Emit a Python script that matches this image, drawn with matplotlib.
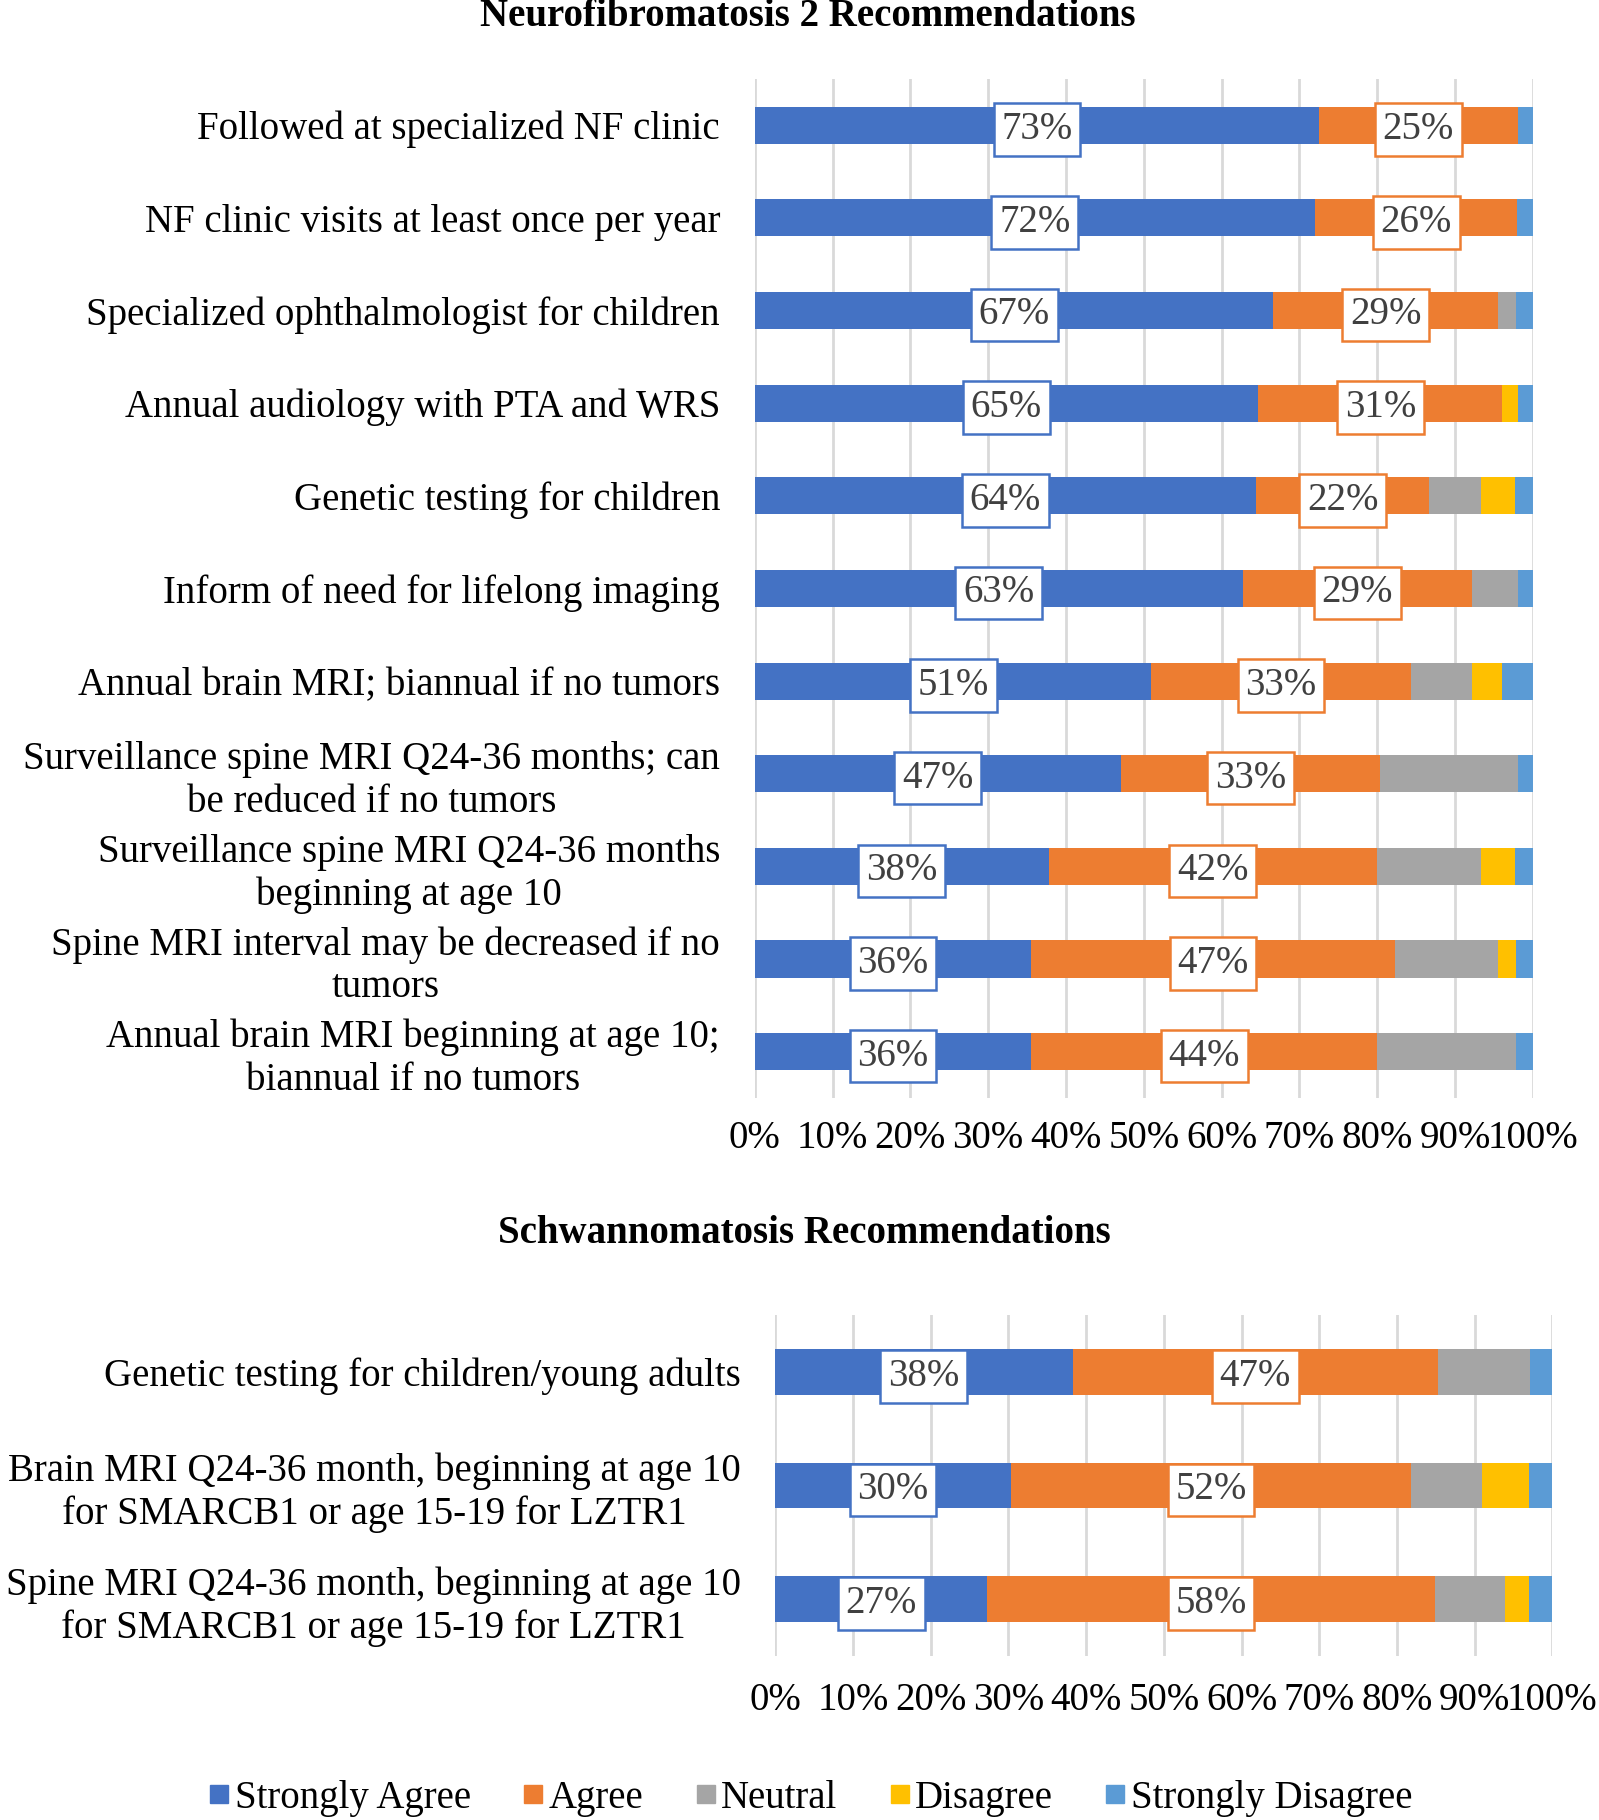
import numpy as np
import matplotlib
matplotlib.use("Agg")
import matplotlib.pyplot as plt
from matplotlib.lines import Line2D

plt.rcParams['font.family'] = ['Liberation Serif', 'DejaVu Serif']

responses = ['Strongly Agree', 'Agree', 'Neutral', 'Disagree', 'Strongly Disagree']
colors = ['#4472C4', '#ED7D31', '#A5A5A5', '#FFC000', '#5B9BD5']

nf2_items = [
    'Followed at specialized NF clinic',
    'NF clinic visits at least once per year',
    'Specialized ophthalmologist for children',
    'Annual audiology with PTA and WRS',
    'Genetic testing for children',
    'Inform of need for lifelong imaging',
    'Annual brain MRI; biannual if no tumors',
    'Surveillance spine MRI Q24-36 months; can\nbe reduced if no tumors',
    'Surveillance spine MRI Q24-36 months\nbeginning at age 10',
    'Spine MRI interval may be decreased if no\ntumors',
    'Annual brain MRI beginning at age 10;\nbiannual if no tumors',
]
nf2_strongly_agree = [72.55, 72.00, 66.67, 64.71, 64.44, 62.75, 50.98, 47.06, 37.78, 35.56, 35.56]
nf2_agree = [25.49, 26.00, 28.89, 31.37, 22.22, 29.41, 33.33, 33.33, 42.22, 46.67, 44.44]
nf2_neutral = [0, 0, 2.22, 0, 6.67, 5.88, 7.84, 17.65, 13.33, 13.33, 17.78]
nf2_disagree = [0, 0, 0, 1.96, 4.44, 0, 3.92, 0, 4.44, 2.22, 0]
nf2_strongly_disagree = [1.96, 2.00, 2.22, 1.96, 2.22, 1.96, 3.92, 1.96, 2.22, 2.22, 2.22]

swn_items = [
    'Genetic testing for children/young adults',
    'Brain MRI Q24-36 month, beginning at age 10\nfor SMARCB1 or age 15-19 for LZTR1',
    'Spine MRI Q24-36 month, beginning at age 10\nfor SMARCB1 or age 15-19 for LZTR1',
]
swn_strongly_agree = [38.24, 30.30, 27.27]
swn_agree = [47.06, 51.52, 57.58]
swn_neutral = [11.76, 9.09, 9.09]
swn_disagree = [0, 6.06, 3.03]
swn_strongly_disagree = [2.94, 3.03, 3.03]

xticks = np.arange(0, 101, 10)
FS = 28


def draw_stack(ax, items, series, xpad):
    y = np.arange(len(items))
    left = np.zeros(len(items))
    for k, vals in enumerate(series):
        vals = np.array(vals, dtype=float)
        ax.barh(y, vals, left=left, height=0.4, color=colors[k], zorder=3)
        if k < 2:
            for i, v in enumerate(vals):
                ax.text(left[i] + v / 2, y[i], f"{v:.0f}%", ha='center',
                        va='center_baseline', fontsize=FS, color='#404040', zorder=5,
                        bbox=dict(boxstyle='square,pad=0.2', fc='white',
                                  ec=colors[k], lw=1.8))
        left += vals
    ax.set_xlim(0, 100)
    ax.set_ylim(len(items) - 0.5, -0.5)
    ax.set_xticks(xticks)
    ax.set_xticklabels([f"{t}%" for t in xticks], fontsize=FS)
    ax.set_yticks(y)
    ax.set_yticklabels(items, fontsize=FS, multialignment='center', linespacing=1.2)
    ax.tick_params(axis='both', length=0)
    ax.tick_params(axis='y', pad=25)
    ax.tick_params(axis='x', pad=xpad)
    ax.grid(axis='x', color='#D9D9D9', lw=2, zorder=0)
    for s in ax.spines.values():
        s.set_visible(False)


fig = plt.figure(figsize=(15.99, 18.20), dpi=100)

ax1 = fig.add_axes([0.472, 0.3967, 0.4866, 0.560])
draw_stack(ax1, nf2_items,
           [nf2_strongly_agree, nf2_agree, nf2_neutral, nf2_disagree, nf2_strongly_disagree], 16)
fig.text(0.505, 0.991, 'Neurofibromatosis 2 Recommendations', ha='center', va='center',
         fontsize=FS, fontweight='bold')

ax2 = fig.add_axes([0.4849, 0.0901, 0.486, 0.1874])
draw_stack(ax2, swn_items,
           [swn_strongly_agree, swn_agree, swn_neutral, swn_disagree, swn_strongly_disagree], 19)
fig.text(0.503, 0.322, 'Schwannomatosis Recommendations', ha='center', va='center',
         fontsize=FS, fontweight='bold')

handles = [Line2D([], [], marker='s', ls='', color=c, markersize=13) for c in colors]
fig.legend(handles, responses, loc='center', bbox_to_anchor=(0.506, 0.012), ncol=5,
           frameon=False, fontsize=FS, handletextpad=0.05, columnspacing=1.25,
           handlelength=0.7)

fig.savefig('out.png', dpi=100)
